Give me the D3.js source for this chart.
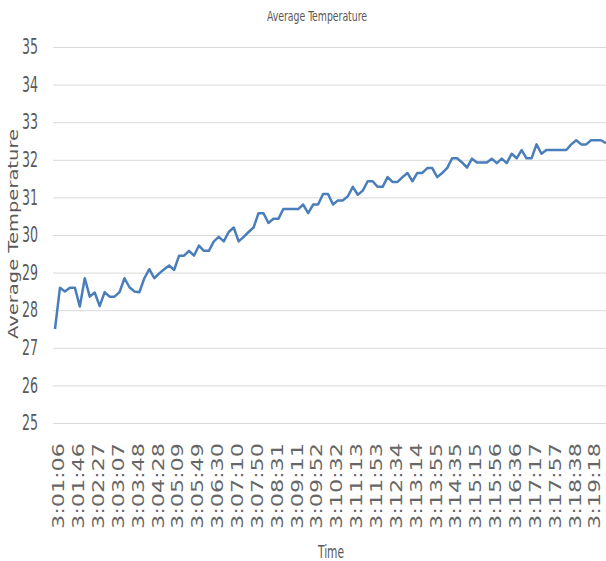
<!DOCTYPE html>
<meta charset="utf-8">
<style>
  body { margin: 0; background: #fff; }
  svg { display: block; }
</style>
<svg width="606" height="561"></svg>
<script src="https://cdn.jsdelivr.net/npm/d3@7/dist/d3.min.js"></script>
<script>
var yTicks = [25, 26, 27, 28, 29, 30, 31, 32, 33, 34, 35];

var timeLabels = ["3:01:06", "3:01:46", "3:02:27", "3:03:07", "3:03:48", "3:04:28", "3:05:09",
  "3:05:49", "3:06:30", "3:07:10", "3:07:50", "3:08:31", "3:09:11", "3:09:52", "3:10:32",
  "3:11:13", "3:11:53", "3:12:34", "3:13:14", "3:13:55", "3:14:35", "3:15:15", "3:15:56",
  "3:16:36", "3:17:17", "3:17:57", "3:18:38", "3:19:18"];

// one reading every ~10 s, a label shown on every 4th one
var temps = [
  27.50, 28.60, 28.50, 28.60, 28.60, 28.10, 28.85, 28.36, 28.47, 28.11,
  28.48, 28.36, 28.36, 28.48, 28.85, 28.61, 28.50, 28.48, 28.85, 29.09,
  28.85, 28.98, 29.09, 29.19, 29.07, 29.45, 29.45, 29.58, 29.45, 29.72,
  29.58, 29.58, 29.83, 29.95, 29.83, 30.08, 30.20, 29.83, 29.95, 30.08,
  30.20, 30.58, 30.58, 30.32, 30.43, 30.43, 30.69, 30.69, 30.69, 30.69,
  30.81, 30.58, 30.81, 30.81, 31.09, 31.09, 30.81, 30.92, 30.92, 31.03,
  31.28, 31.07, 31.18, 31.43, 31.43, 31.28, 31.28, 31.54, 31.41, 31.41,
  31.54, 31.65, 31.43, 31.65, 31.65, 31.78, 31.78, 31.54, 31.65, 31.78,
  32.04, 32.04, 31.93, 31.79, 32.03, 31.93, 31.93, 31.93, 32.03, 31.91,
  32.03, 31.91, 32.16, 32.04, 32.26, 32.04, 32.04, 32.41, 32.16, 32.26,
  32.26, 32.26, 32.26, 32.26, 32.41, 32.52, 32.41, 32.41, 32.52, 32.52,
  32.52, 32.44
];

var svg = d3.select("svg"),
    gridLeft = 53, plotLeft = 55, plotRight = 606, plotTop = 47, plotBottom = 423,
    grey = "#595959",
    narrow = "'Liberation Sans Narrow', 'DejaVu Sans Condensed', sans-serif",
    wide = "'DejaVu Sans', Verdana, sans-serif";

var x = d3.scaleLinear().domain([0, temps.length - 1]).range([plotLeft, plotRight]);
var y = d3.scaleLinear().domain([25, 35]).range([plotBottom, plotTop]);

// y axis with gridlines
var gy = svg.append("g")
    .attr("transform", "translate(" + gridLeft + ",0)")
    .call(d3.axisLeft(y).tickValues(yTicks).tickSize(-(plotRight - gridLeft)).tickPadding(15));
gy.select(".domain").remove();
gy.selectAll(".tick line").attr("stroke", "#d9d9d9").attr("stroke-width", 1);
gy.selectAll(".tick text")
    .attr("fill", grey)
    .style("font-family", narrow)
    .style("font-size", "21px")
    .attr("textLength", 16)
    .attr("lengthAdjust", "spacingAndGlyphs");

// x axis, rotated time labels
var gx = svg.append("g")
    .attr("transform", "translate(0," + plotBottom + ")")
    .call(d3.axisBottom(x)
      .tickValues(timeLabels.map(function(d, i) { return i * 4; }))
      .tickFormat(function(d) { return timeLabels[d / 4]; })
      .tickSize(0));
gx.select(".domain").remove();
gx.selectAll(".tick text")
    .attr("transform", "rotate(-90)")
    .attr("text-anchor", "end")
    .attr("x", -20)
    .attr("y", 8.8)
    .attr("dy", null)
    .attr("fill", "#666")
    .style("font-family", wide)
    .style("font-size", "15px")
    .attr("textLength", 86)
    .attr("lengthAdjust", "spacingAndGlyphs");

// the series
var line = d3.line()
    .x(function(d, i) { return x(i); })
    .y(function(d) { return y(d); });

svg.append("path")
    .datum(temps)
    .attr("fill", "none")
    .attr("stroke", "#4a7ebb")
    .attr("stroke-width", 2.5)
    .attr("stroke-linejoin", "round")
    .attr("d", line);

// titles
svg.append("text")
    .attr("x", 317)
    .attr("y", 21)
    .attr("text-anchor", "middle")
    .attr("fill", grey)
    .style("font-family", narrow)
    .style("font-size", "13.5px")
    .attr("textLength", 100)
    .attr("lengthAdjust", "spacingAndGlyphs")
    .text("Average Temperature");

svg.append("text")
    .attr("transform", "translate(18.3,234) rotate(-90)")
    .attr("text-anchor", "middle")
    .attr("fill", grey)
    .style("font-family", wide)
    .style("font-size", "14px")
    .attr("textLength", 210)
    .attr("lengthAdjust", "spacingAndGlyphs")
    .text("Average Temperature");

svg.append("text")
    .attr("x", 331)
    .attr("y", 558)
    .attr("text-anchor", "middle")
    .attr("fill", grey)
    .style("font-family", narrow)
    .style("font-size", "18px")
    .attr("textLength", 26)
    .attr("lengthAdjust", "spacingAndGlyphs")
    .text("Time");
</script>
